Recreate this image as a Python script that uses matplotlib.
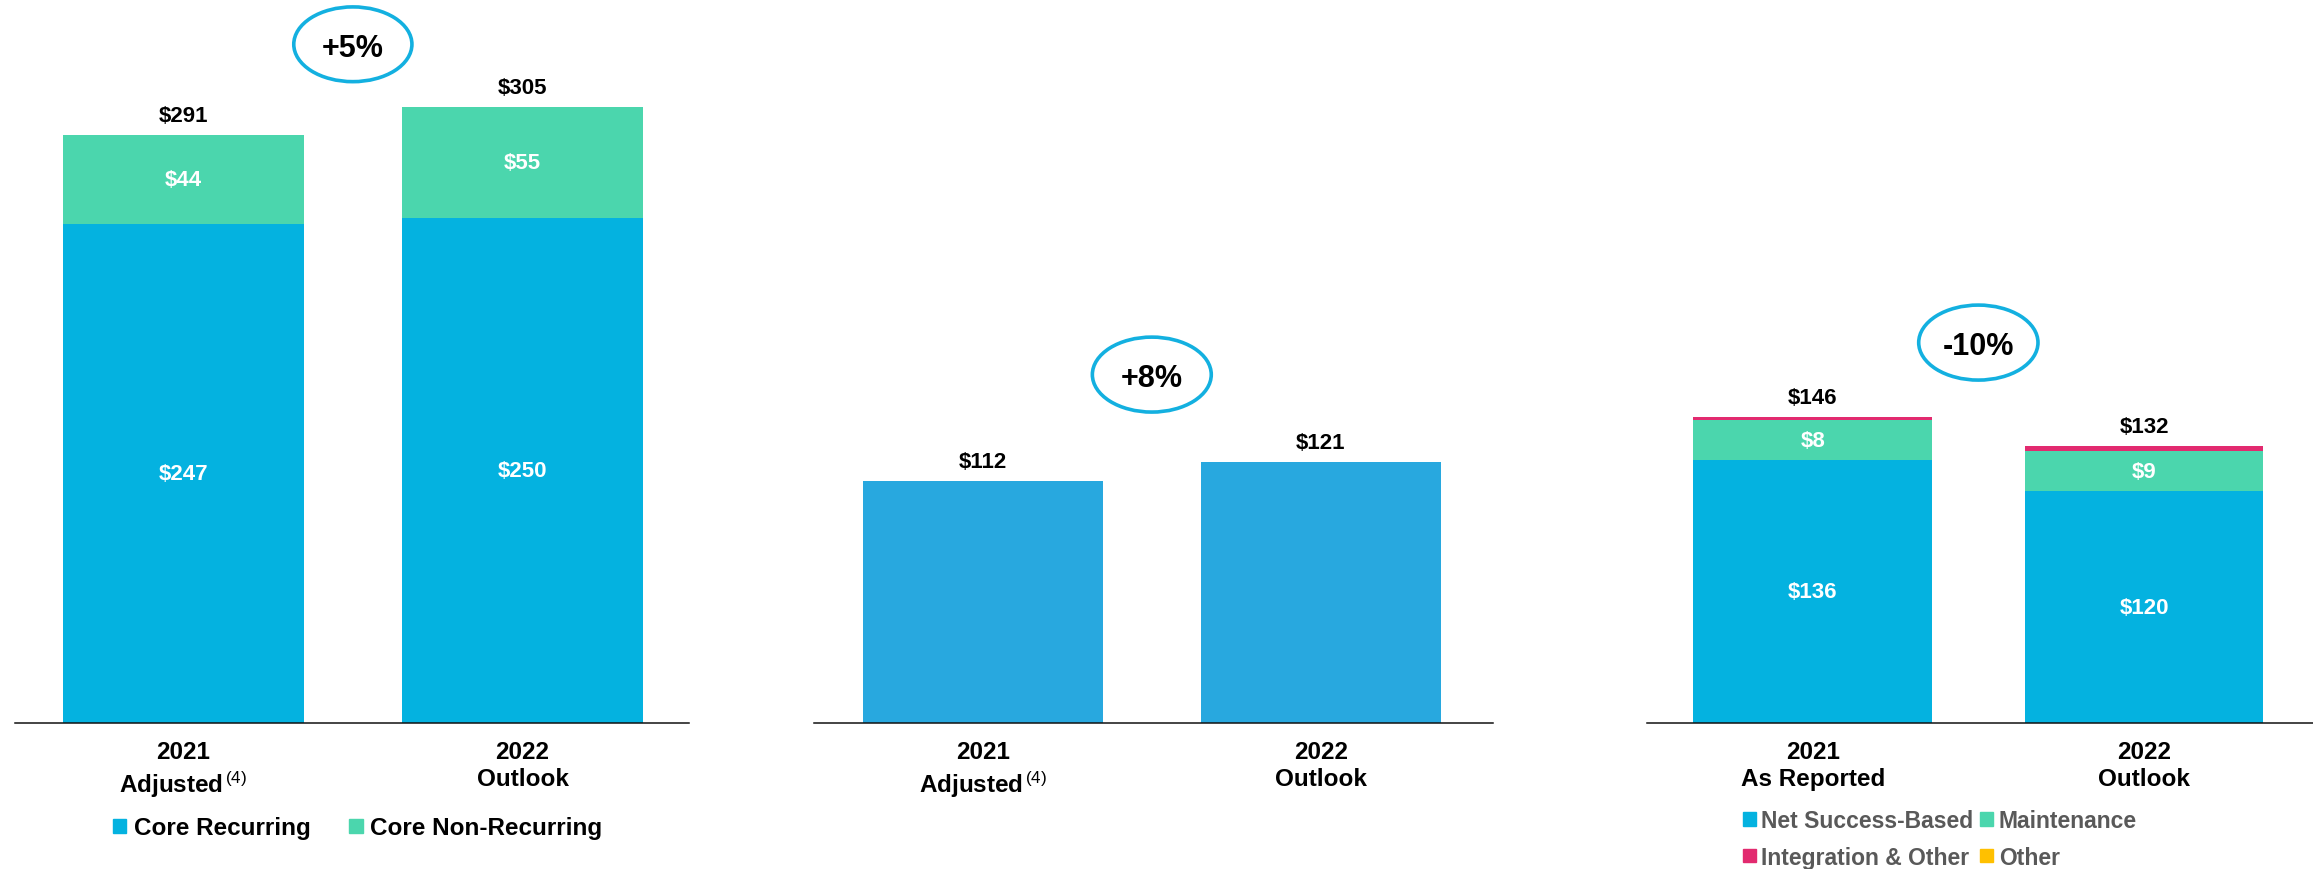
import matplotlib
matplotlib.use("Agg")
import matplotlib.pyplot as plt
from matplotlib.patches import Ellipse, Patch

plt.rcParams['font.family'] = ['Liberation Sans', 'DejaVu Sans']
plt.rcParams['mathtext.fontset'] = 'custom'
plt.rcParams['mathtext.rm'] = 'Liberation Sans'
plt.rcParams['mathtext.it'] = 'Liberation Sans:italic'
plt.rcParams['mathtext.bf'] = 'Liberation Sans:bold'

# ---------------- data ----------------
# Panel 1
cats_1 = ["2021\nAdjusted$^{\\,(4)}$", "2022\nOutlook"]
core_recurring = [247, 250]
core_non_recurring = [44, 55]
totals_1 = ["$291", "$305"]
growth_1 = "+5%"

# Panel 2
cats_2 = ["2021\nAdjusted$^{\\,(4)}$", "2022\nOutlook"]
values_2 = [112, 121]
totals_2 = ["$112", "$121"]
growth_2 = "+8%"

# Panel 3
cats_3 = ["2021\nAs Reported", "2022\nOutlook"]
net_success_based = [136, 120]
maintenance = [20.5, 20.5]          # segment height as drawn in the picture
maintenance_labels = ["$8", "$9"]
integration_other = [2, 3]
other = [0, 0]
totals_3 = ["$146", "$132"]
growth_3 = "-10%"

# ---------------- style ----------------
BLUE = "#04B2E0"
BLUE2 = "#28A8DF"
GREEN = "#4BD6AD"
PINK = "#E22A6F"
YELLOW = "#FFC000"
RING = "#13B0E0"
TICK_FS = 17.5

W, H = 2313, 870
fig = plt.figure(figsize=(W / 100, H / 100), dpi=100)

def make_ax(x0, x1, ymax, xl, xr):
    ax = fig.add_axes([x0 / W, 1 - 724 / H, (x1 - x0) / W, 724 / H])
    ax.set_xlim(xl, xr)
    ax.set_ylim(0, ymax)
    for s in ("top", "right", "left"):
        ax.spines[s].set_visible(False)
    ax.spines["bottom"].set_color("#111111")
    ax.spines["bottom"].set_linewidth(1.1)
    ax.set_yticks([])
    ax.tick_params(axis="x", length=0, pad=12.5)
    return ax

def finish(ax, cats, tops, totals, growth, ring_y, ring_w, ring_h):
    x = range(len(cats))
    ax.set_xticks(list(x))
    ax.set_xticklabels(cats, fontsize=TICK_FS, fontweight="bold", linespacing=1.22)
    for xi, t, lab in zip(x, tops, totals):
        ax.annotate(lab, (xi, t), xytext=(0, 10), textcoords="offset points",
                    ha="center", va="baseline", fontsize=16, fontweight="bold",
                    color="black")
    e = Ellipse((0.5, ring_y), ring_w, ring_h, fill=False, edgecolor=RING,
                linewidth=2.6, clip_on=False)
    ax.add_patch(e)
    ax.text(0.5, ring_y, growth, ha="center", va="center_baseline",
            fontsize=22, fontweight="bold", color="black")

def inner(ax, xs, bottoms, heights, labels):
    for xi, b, h, lab in zip(xs, bottoms, heights, labels):
        ax.text(xi, b + h / 2, lab, ha="center", va="center", fontsize=16,
                fontweight="bold", color="white")

# ---------------- Panel 1 ----------------
ax1 = make_ax(15, 689, 724 / 2.02, -0.495, 1.49)
x1 = list(range(len(cats_1)))
ax1.bar(x1, core_recurring, width=0.71, color=BLUE, label="Core Recurring")
ax1.bar(x1, core_non_recurring, width=0.71, bottom=core_recurring, color=GREEN,
        label="Core Non-Recurring")
inner(ax1, x1, [0, 0], core_recurring, [f"${v}" for v in core_recurring])
inner(ax1, x1, core_recurring, core_non_recurring, [f"${v}" for v in core_non_recurring])
tops1 = [a + b for a, b in zip(core_recurring, core_non_recurring)]
finish(ax1, cats_1, tops1, totals_1, growth_1, 336, 0.348, 37)
ax1.legend(handles=[Patch(color=BLUE, label="Core Recurring"),
                    Patch(color=GREEN, label="Core Non-Recurring")],
           loc="center left", bbox_to_anchor=(113 / W, 1 - 829 / H),
           bbox_transform=fig.transFigure, ncol=2, frameon=False,
           borderpad=0, borderaxespad=0, handlelength=0.55, handleheight=0.55,
           handletextpad=0.3, columnspacing=1.6,
           prop={"size": 17.5, "weight": "bold"})

# ---------------- Panel 2 ----------------
ax2 = make_ax(814, 1493, 724 / 2.16, -0.5, 1.51)
x2 = list(range(len(cats_2)))
ax2.bar(x2, values_2, width=0.71, color=BLUE2)
finish(ax2, cats_2, values_2, totals_2, growth_2, 161.3, 0.352, 34.7)

# ---------------- Panel 3 ----------------
ax3 = make_ax(1647, 2313, 724 / 1.933, -0.5, 1.51)
x3 = list(range(len(cats_3)))
b1 = net_success_based
b2 = [a + b for a, b in zip(b1, maintenance)]
b3 = [a + b for a, b in zip(b2, integration_other)]
ax3.bar(x3, net_success_based, width=0.72, color=BLUE)
ax3.bar(x3, maintenance, width=0.72, bottom=b1, color=GREEN)
ax3.bar(x3, integration_other, width=0.72, bottom=b2, color=PINK)
ax3.bar(x3, other, width=0.72, bottom=b3, color=YELLOW)
inner(ax3, x3, [0, 0], net_success_based, [f"${v}" for v in net_success_based])
inner(ax3, x3, b1, maintenance, maintenance_labels)
tops3 = [a + b for a, b in zip(b3, other)]
finish(ax3, cats_3, tops3, totals_3, growth_3, 196.8, 0.36, 38.8)
leg3 = ax3.legend(handles=[Patch(color=BLUE, label="Net Success-Based"),
                           Patch(color=PINK, label="Integration & Other"),
                           Patch(color=GREEN, label="Maintenance"),
                           Patch(color=YELLOW, label="Other")],
                  loc="center left", bbox_to_anchor=(1743 / W, 1 - 840 / H),
                  bbox_transform=fig.transFigure, ncol=2, frameon=False,
                  borderpad=0, borderaxespad=0, handlelength=0.55, handleheight=0.55,
                  handletextpad=0.25, columnspacing=0.3, labelspacing=0.58,
                  prop={"size": 16.5, "weight": "bold"})
for t in leg3.get_texts():
    t.set_color("#595959")

fig.savefig("out.png", dpi=100)
